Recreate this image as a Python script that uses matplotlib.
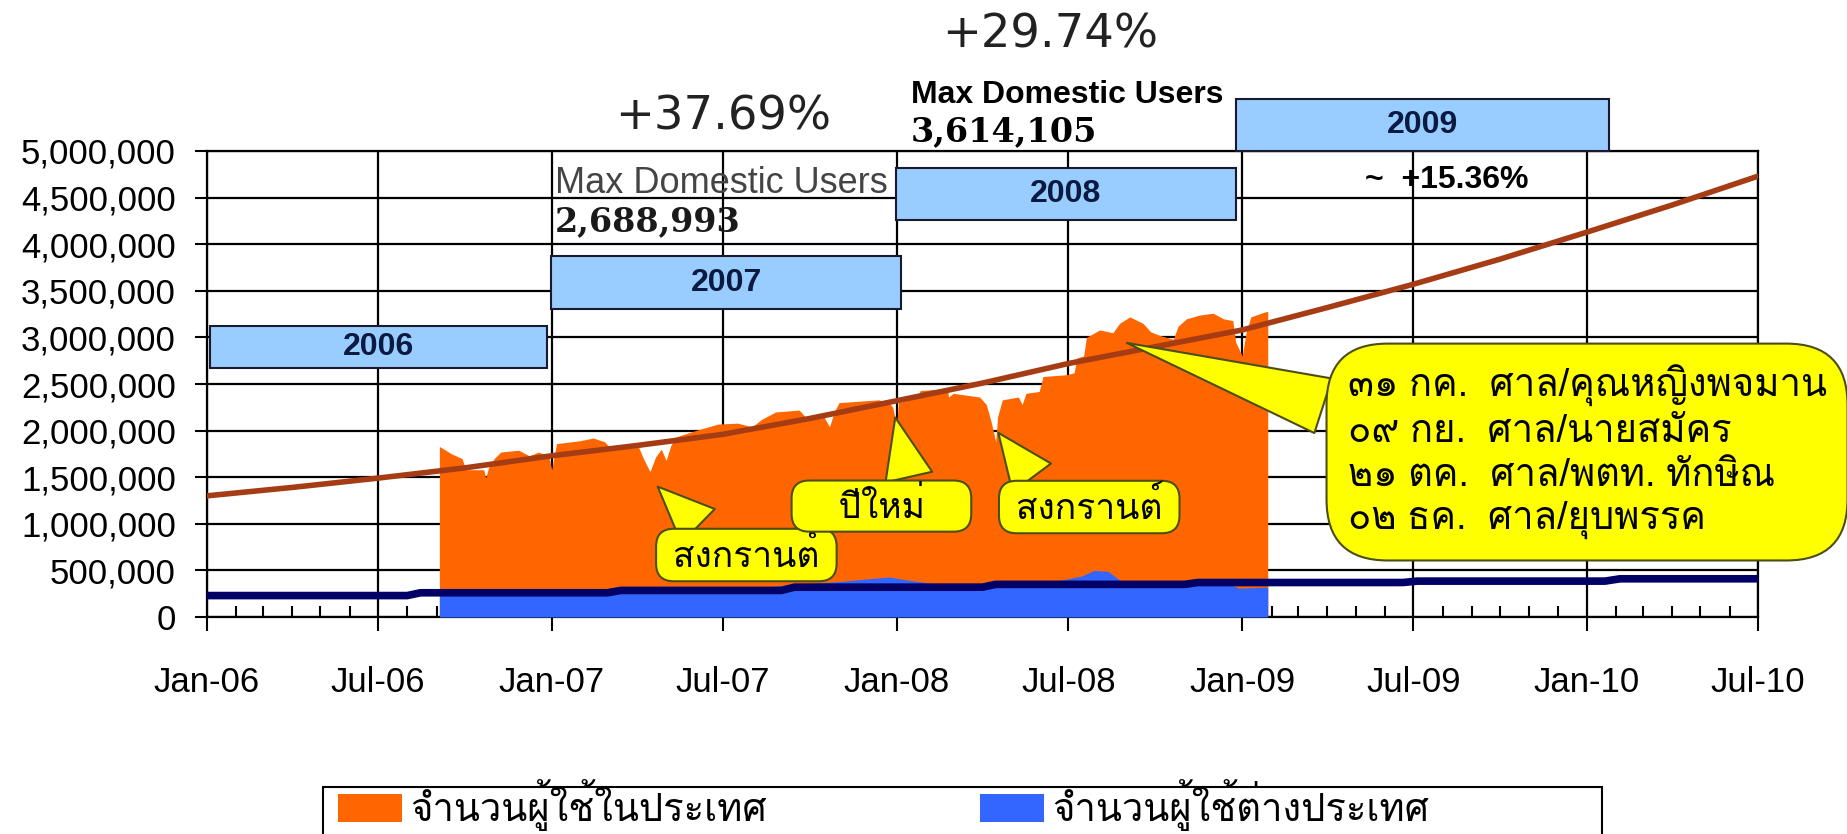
import matplotlib
matplotlib.use('Agg')
import matplotlib.pyplot as plt
import matplotlib.dates as mdates
from matplotlib import font_manager, ft2font
from matplotlib.patches import Rectangle, Patch
import pandas as pd


def find_thai_font():
    # first installed font that has Thai glyphs
    for f in font_manager.fontManager.ttflist:
        try:
            if 0x0E01 in ft2font.FT2Font(f.fname).get_charmap():
                return f.name
        except Exception:
            pass
    return 'DejaVu Sans'


THAI = find_thai_font()
plt.rcParams['font.family'] = ['Liberation Sans', THAI, 'DejaVu Sans']

# จำนวนผู้ใช้ในประเทศ (domestic users, thousands)
dom_dates = ['2006-09-04', '2006-09-17', '2006-09-28', '2006-10-02', '2006-10-21',
             '2006-10-23', '2006-10-26', '2006-11-01', '2006-11-08', '2006-11-27',
             '2006-12-08', '2006-12-18', '2006-12-29', '2007-01-01', '2007-01-06',
             '2007-01-30', '2007-02-14', '2007-02-26', '2007-03-05', '2007-04-03',
             '2007-04-08', '2007-04-15', '2007-04-21', '2007-04-27', '2007-05-02',
             '2007-05-07', '2007-05-12', '2007-06-02', '2007-06-26', '2007-07-17',
             '2007-08-01', '2007-08-11', '2007-08-26', '2007-09-20', '2007-09-27',
             '2007-10-16', '2007-10-22', '2007-10-27', '2007-11-01', '2007-12-13',
             '2007-12-24', '2007-12-28', '2008-01-01', '2008-01-03', '2008-01-23',
             '2008-01-26', '2008-02-24', '2008-02-25', '2008-03-01', '2008-03-29',
             '2008-04-05', '2008-04-10', '2008-04-15', '2008-04-17', '2008-04-22',
             '2008-05-09', '2008-05-13', '2008-05-17', '2008-05-31', '2008-06-04',
             '2008-06-29', '2008-07-07', '2008-07-10', '2008-07-17', '2008-07-20',
             '2008-08-03', '2008-08-17', '2008-08-24', '2008-09-04', '2008-09-18',
             '2008-09-26', '2008-10-06', '2008-10-20', '2008-10-25', '2008-11-03',
             '2008-11-17', '2008-12-01', '2008-12-12', '2008-12-22', '2008-12-25',
             '2009-01-01', '2009-01-05', '2009-01-10', '2009-01-24', '2009-01-28']
dom_users = [1830, 1750, 1700, 1580, 1580,
             1490, 1600, 1700, 1770, 1790,
             1730, 1770, 1720, 1580, 1860,
             1890, 1920, 1880, 1800, 1820,
             1700, 1560, 1720, 1800, 1680,
             1840, 1930, 2000, 2070, 2080,
             2040, 2120, 2200, 2220, 2140,
             2150, 2040, 2200, 2300, 2330,
             2300, 2250, 2050, 2300, 2350,
             2430, 2450, 2360, 2400, 2360,
             2280, 2100, 1880, 2150, 2330,
             2360, 2280, 2400, 2420, 2580,
             2600, 2620, 2780, 2800, 3000,
             3080, 3050, 3150, 3220, 3150,
             3060, 3020, 2980, 3120, 3200,
             3240, 3260, 3200, 3180, 2950,
             2800, 3050, 3220, 3270, 3280]

# จำนวนผู้ใช้ต่างประเทศ (foreign users, thousands)
frn_dates = ['2006-09-04', '2006-10-10', '2006-11-20', '2007-01-10', '2007-03-01',
             '2007-05-01', '2007-06-15', '2007-08-01', '2007-09-15', '2007-11-01',
             '2007-12-01', '2007-12-25', '2008-01-10', '2008-02-15', '2008-04-01',
             '2008-05-01', '2008-06-15', '2008-07-15', '2008-07-28', '2008-08-12',
             '2008-08-25', '2008-10-01', '2008-11-15', '2008-12-15', '2008-12-28',
             '2009-01-28']
frn_users = [290, 300, 280, 290, 300,
             290, 310, 310, 350, 380,
             410, 430, 400, 350, 330,
             360, 380, 440, 500, 490,
             390, 370, 380, 370, 310,
             320]

# trend of domestic users (thousands)
dom_trend_dates = ['2006-01-01', '2006-04-01', '2006-07-01', '2006-10-01', '2007-01-01',
                   '2007-04-01', '2007-07-01', '2007-10-01', '2008-01-01', '2008-04-01',
                   '2008-07-01', '2008-10-01', '2009-01-01', '2009-04-01', '2009-07-01',
                   '2009-10-01', '2010-01-01', '2010-04-01', '2010-07-01']
dom_trend = [1300, 1390, 1490, 1600, 1730,
             1840, 1960, 2130, 2320, 2510,
             2720, 2900, 3080, 3320, 3570,
             3840, 4130, 4420, 4730]

# trend of foreign users (thousands), step-wise
frn_trend_dates = ['2006-01-01', '2006-08-01', '2006-08-15', '2007-03-01', '2007-03-15',
                   '2007-09-01', '2007-09-15', '2008-04-01', '2008-04-15', '2008-11-01',
                   '2008-11-15', '2009-06-20', '2009-07-05', '2010-01-20', '2010-02-05',
                   '2010-07-01']
frn_trend = [230, 230, 260, 260, 285,
             285, 320, 320, 350, 350,
             370, 370, 385, 385, 410,
             410]

years = ['2006', '2007', '2008', '2009']
events = ['๓๑ กค.  ศาล/คุณหญิงพจมาน',
          '๐๙ กย.  ศาล/นายสมัคร',
          '๒๑ ตค.  ศาล/พตท. ทักษิณ',
          '๐๒ ธค.  ศาล/ยุบพรรค']
legend_labels = ['จำนวนผู้ใช้ในประเทศ', 'จำนวนผู้ใช้ต่างประเทศ']

ORANGE = '#FF6600'
BLUE = '#3366FF'
NAVY = '#000066'
BROWN = '#A63C14'
YELLOW = '#FFFF00'
BOXBLUE = '#99CCFF'
EDGE = '#4d4d1a'

d = pd.to_datetime
K = 1000

fig = plt.figure(figsize=(18.47, 8.34), dpi=100)
ax = fig.add_axes([207 / 1847, 1 - 617 / 834, 1551 / 1847, 466 / 834])

ax.fill_between(d(dom_dates), 0, [v * K for v in dom_users], color=ORANGE, lw=0, zorder=2)
ax.fill_between(d(frn_dates), 0, [v * K for v in frn_users], color=BLUE, lw=0, zorder=3)
ax.plot(d(frn_trend_dates), [v * K for v in frn_trend], color=NAVY, lw=5.5, zorder=4)
ax.plot(d(dom_trend_dates), [v * K for v in dom_trend], color=BROWN, lw=4, zorder=5)

ax.set_xlim(d('2006-01-01'), d('2010-07-01'))
ax.set_ylim(0, 5000000)
ax.set_yticks(range(0, 5000001, 500000))
ax.yaxis.set_major_formatter(matplotlib.ticker.FuncFormatter(lambda v, p: f'{v:,.0f}'))
ax.xaxis.set_major_locator(mdates.MonthLocator(bymonth=[1, 7]))
ax.xaxis.set_minor_locator(mdates.MonthLocator())
ax.xaxis.set_major_formatter(mdates.DateFormatter('%b-%y'))

ax.tick_params(axis='x', which='major', direction='out', length=10, width=1.5,
               pad=25, labelsize=25)
ax.tick_params(axis='x', which='minor', direction='in', length=8, width=1.5)
ax.tick_params(axis='y', which='major', direction='out', length=8.5, width=1.5,
               pad=14, labelsize=25)
ax.grid(True, which='major', color='black', lw=1.6)
ax.set_axisbelow(True)
for s in ax.spines.values():
    s.set_color('black')
    s.set_linewidth(1.6)

# year boxes
year_spans = [('2006-01-04', '2006-12-27', 2670000, 3120000),
              ('2006-12-31', '2008-01-06', 3300000, 3870000),
              ('2007-12-31', '2008-12-25', 4260000, 4820000),
              ('2008-12-25', '2010-01-24', 5000000, 5560000)]
for yr, (x0, x1, y0, y1) in zip(years, year_spans):
    x0, x1 = mdates.date2num(d(x0)), mdates.date2num(d(x1))
    ax.add_patch(Rectangle((x0, y0), x1 - x0, y1 - y0, fc=BOXBLUE, ec='#1a1a2e',
                           lw=1.5, zorder=6, clip_on=False))
    ax.text((x0 + x1) / 2, (y0 + y1) / 2, yr, ha='center', va='center', fontsize=23,
            fontweight='bold', color='#0a1a40', zorder=7, clip_on=False)

# growth / max texts
ax.text(d('2007-07-01'), 5360000, '+37.69%', ha='center', va='center', fontsize=33.5,
        family='DejaVu Sans', color='#222222', clip_on=False)
ax.text(d('2008-06-12'), 6240000, '+29.74%', ha='center', va='center', fontsize=33.5,
        family='DejaVu Sans', color='#222222', clip_on=False)
ax.text(d('2007-01-04'), 4650000, 'Max Domestic Users', ha='left', va='center',
        fontsize=26, color='#444444', clip_on=False)
ax.text(d('2007-01-04'), 4240000, '2,688,993', ha='left', va='center', fontsize=24,
        family='DejaVu Serif', fontweight='bold', color='#1a1a1a', clip_on=False)
ax.text(d('2008-01-16'), 5600000, 'Max Domestic Users', ha='left', va='center',
        fontsize=23, fontweight='bold', color='black', clip_on=False)
ax.text(d('2008-01-16'), 5210000, '3,614,105', ha='left', va='center', fontsize=24,
        family='DejaVu Serif', fontweight='bold', color='black', clip_on=False)
ax.text(d('2009-05-11'), 4690000, '~  +15.36%', ha='left', va='center', fontsize=23,
        fontweight='bold', color='black', clip_on=False)


# yellow callouts
def callout(text, tip, box, relpos, size=25.5, pad=0.2, width=1.35):
    ax.annotate(text, xy=(d(tip[0]), tip[1]), xytext=(d(box[0]), box[1]),
                ha='center', va='center', fontsize=size, zorder=8,
                bbox=dict(boxstyle=f'round,pad={pad},rounding_size=0.5', fc=YELLOW,
                          ec=EDGE, lw=1.5),
                arrowprops=dict(arrowstyle=f'wedge,tail_width={width}', fc=YELLOW,
                                ec=EDGE, lw=1.5, relpos=relpos),
                annotation_clip=False)


callout(' สงกรานต์ ', ('2007-04-21', 1420000), ('2007-07-26', 665000), (0.27, 1.0))
callout('    ปีใหม่    ', ('2007-12-30', 2170000), ('2007-12-16', 1190000), (0.68, 1.0))
callout(' สงกรานต์ ', ('2008-04-16', 2000000), ('2008-07-23', 1180000), (0.2, 1.0))
ax.annotate('\n'.join(events), xy=(d('2008-08-29'), 2950000),
            xytext=(d('2010-01-01'), 1770000), ha='center', va='center', fontsize=27.5,
            multialignment='left', linespacing=1.27, zorder=8,
            bbox=dict(boxstyle='round,pad=0.55,rounding_size=1.6', fc=YELLOW,
                      ec=EDGE, lw=1.5),
            arrowprops=dict(arrowstyle='wedge,tail_width=1.5', fc=YELLOW, ec=EDGE,
                            lw=1.5, relpos=(0.0, 0.72)),
            annotation_clip=False)

# legend, frame drawn as a figure rectangle
handles = [Patch(fc=ORANGE), Patch(fc=BLUE)]
fig.legend(handles, legend_labels, ncol=2, loc='upper left',
           bbox_to_anchor=(338 / 1847, 1 - 779 / 834), frameon=False, fontsize=27.5,
           handlelength=1.68, handleheight=0.76, handletextpad=0.2,
           columnspacing=5.6, borderpad=0, borderaxespad=0)
fig.add_artist(Rectangle((323 / 1847, -0.05), 1279 / 1847, 0.05 + 1 - 787 / 834,
                         transform=fig.transFigure, fill=False, ec='black', lw=1.5))

fig.savefig('out.png', dpi=100)
